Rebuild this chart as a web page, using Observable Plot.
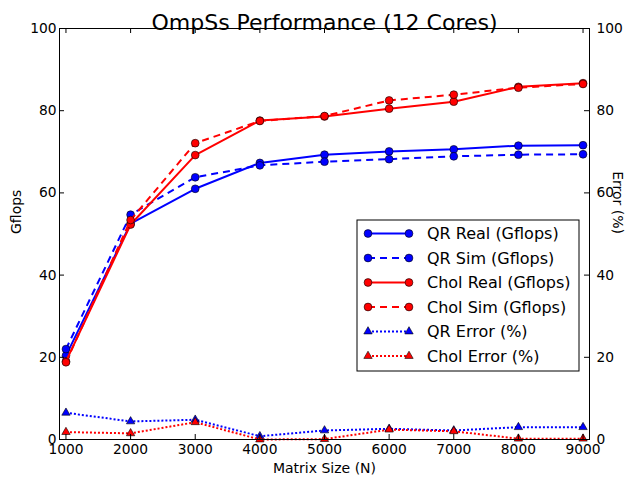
<!DOCTYPE html>
<html><head><meta charset="utf-8">
<script src="https://cdn.jsdelivr.net/npm/d3@7"></script>
<script src="https://cdn.jsdelivr.net/npm/@observablehq/plot@0.6"></script>
<style>body{margin:0;background:#fff}#chart svg{display:block}</style>
</head><body><div id="chart"></div>
<script>
const sizes = [1000, 2000, 3000, 4000, 5000, 6000, 7000, 8000, 9000];
const qrReal = [20.4, 52.5, 61.0, 67.3, 69.3, 70.1, 70.6, 71.5, 71.6];
const qrSim = [22.0, 54.7, 63.8, 66.7, 67.6, 68.2, 68.9, 69.3, 69.4];
const cholReal = [19.0, 52.3, 69.2, 77.6, 78.6, 80.5, 82.2, 85.8, 86.7];
const cholSim = [18.8, 53.4, 72.1, 77.5, 78.7, 82.5, 83.9, 85.6, 86.5];
const qrError = [6.5, 4.4, 4.8, 0.8, 2.2, 2.6, 2.2, 3.0, 3.0];
const cholError = [1.8, 1.5, 4.2, 0.0, 0.1, 2.4, 2.0, 0.2, 0.2];
const yTicks = [0, 20, 40, 60, 80, 100];
const seriesNames = ["QR Real (Gflops)", "QR Sim (Gflops)", "Chol Real (Gflops)", "Chol Sim (Gflops)", "QR Error (%)", "Chol Error (%)"];
const title = "OmpSs Performance (12 Cores)";
const xLabel = "Matrix Size (N)";
const yLabel = "Gflops";
const y2Label = "Error (%)";

const BLUE = "#0000ff", RED = "#ff0000";
const styles = [
  {color: BLUE, dash: null, symbol: "circle"},
  {color: BLUE, dash: "7,5", symbol: "circle"},
  {color: RED, dash: null, symbol: "circle"},
  {color: RED, dash: "7,5", symbol: "circle"},
  {color: BLUE, dash: "2,2", symbol: "triangle"},
  {color: RED, dash: "2,2", symbol: "triangle"}
];
const allValues = [qrReal, qrSim, cholReal, cholSim, qrError, cholError];
const series = allValues.map((vals, i) => ({
  name: seriesNames[i], ...styles[i],
  data: sizes.map((s, j) => ({x: s, y: vals[j]}))
}));

const FW = 530, FH = 411;
const seriesMarks = series.flatMap(s => [
  Plot.line(s.data, {x: "x", y: "y", stroke: s.color, strokeWidth: 2, strokeDasharray: s.dash, strokeLinecap: "butt"}),
  Plot.dot(s.data, {x: "x", y: "y", fill: s.color, stroke: "black", strokeWidth: 0.6, symbol: s.symbol, r: s.symbol === "circle" ? 3.9 : 3.1})
]);

const plot = Plot.plot({
  width: 625, height: 479,
  marginTop: 28, marginLeft: 59, marginRight: 36, marginBottom: 40,
  x: {domain: [900, 9100]},
  y: {domain: [0, 100]},
  style: {fontFamily: "DejaVu Sans", fontSize: "13.8px", background: "white", color: "black", overflow: "visible"},
  marks: [
    Plot.axisX(sizes, {anchor: "bottom", tickSize: 0, tickPadding: 5, tickFormat: d => String(d), label: null}),
    Plot.axisY(yTicks, {anchor: "left", tickSize: 0, tickPadding: 3, label: null}),
    Plot.axisY(yTicks, {anchor: "right", tickSize: 0, tickPadding: 7, label: null}),
    ...seriesMarks,
    Plot.tickY(yTicks, {y: d => d, insetRight: FW - 5, stroke: "black"}),
    Plot.tickY(yTicks, {y: d => d, insetLeft: FW - 5, stroke: "black"}),
    Plot.tickX(sizes, {x: d => d, insetTop: FH - 5, stroke: "black"}),
    Plot.tickX(sizes, {x: d => d, insetBottom: FH - 5, stroke: "black"}),
    Plot.frame({stroke: "black", strokeWidth: 1}),
    Plot.text([title], {text: d => d, frameAnchor: "top", dy: -14, fontSize: 22}),
    Plot.text([xLabel], {text: d => d, frameAnchor: "bottom", dy: 33, fontSize: 14}),
    Plot.text([yLabel], {text: d => d, frameAnchor: "left", dx: -43, rotate: -90, fontSize: 14}),
    Plot.text([y2Label], {text: d => d, frameAnchor: "right", dx: 28, rotate: 90, fontSize: 14})
  ]
});
document.getElementById("chart").append(plot);

// Legend
const svg = d3.select(plot);
const lg = svg.append("g").attr("font-family", "DejaVu Sans").attr("font-size", "16px").attr("text-anchor", "start");
lg.append("rect").attr("x", 357).attr("y", 220).attr("width", 222).attr("height", 151)
  .attr("fill", "white").attr("stroke", "black").attr("stroke-width", 1);
series.forEach((s, i) => {
  const yy = 233.5 + i * 24.5;
  lg.append("line").attr("x1", 368).attr("x2", 409).attr("y1", yy).attr("y2", yy)
    .attr("stroke", s.color).attr("stroke-width", 2).attr("stroke-dasharray", s.dash);
  [368, 409].forEach(xx => {
    const sym = s.symbol === "circle" ? d3.symbolCircle : d3.symbolTriangle;
    const r = s.symbol === "circle" ? 3.9 : 3.1;
    lg.append("path").attr("d", d3.symbol(sym, Math.PI * r * r)())
      .attr("transform", `translate(${xx},${yy})`)
      .attr("fill", s.color).attr("stroke", "black").attr("stroke-width", 0.6);
  });
  lg.append("text").attr("x", 427).attr("y", yy).attr("dy", "0.35em").attr("text-anchor", "start").text(s.name);
});
</script>
</body></html>
